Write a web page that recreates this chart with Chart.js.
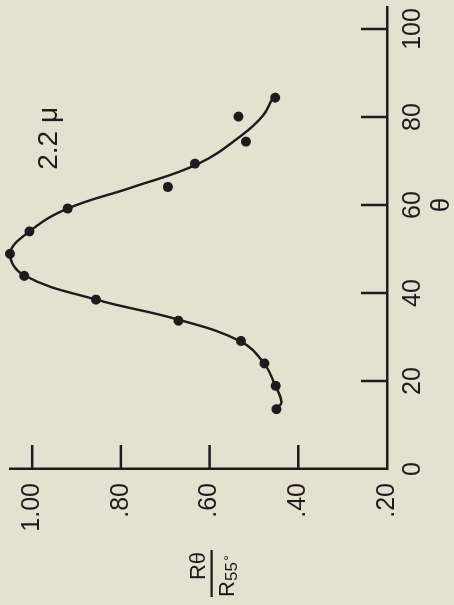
<!DOCTYPE html>
<html>
<head>
<meta charset="utf-8">
<script src="https://cdn.jsdelivr.net/npm/chart.js@4.4.0/dist/chart.umd.min.js"></script>
<style>
  html, body { margin: 0; padding: 0; background: #e5e0d0; overflow: hidden; }
  /* the figure is laid out landscape and turned a quarter turn counter-clockwise */
  #frame {
    position: absolute; left: 0; top: 0;
    width: 605px; height: 454px;
    transform-origin: 0 0;
    transform: translate(0, 605px) rotate(-90deg);
  }
  canvas { display: block; }
</style>
</head>
<body>
<div id="frame"><canvas id="chart" width="605" height="454"></canvas></div>
<script>
// Measured ratio R(θ)/R(55°) at 2.2 μ
const thetaObs = [13.6, 18.9, 24.0, 29.1, 33.7, 38.5, 43.9, 48.9, 54.0, 59.2, 64.1, 69.4, 74.4, 80.1, 84.4];
const ratioObs = [0.449, 0.451, 0.476, 0.529, 0.670, 0.856, 1.018, 1.050, 1.006, 0.920, 0.694, 0.633, 0.518, 0.535, 0.452];

// Faired curve drawn through the measurements
const thetaFit = [13.8, 15.2, 19.0, 24.0, 29.0, 34.0, 38.5, 44.0, 48.9, 54.0, 59.2, 64.0, 69.4, 75.9, 80.4, 83.9];
const ratioFit = [0.448, 0.438, 0.452, 0.477, 0.530, 0.672, 0.856, 1.018, 1.050, 1.006, 0.920, 0.775, 0.625, 0.527, 0.479, 0.460];

// Axis ticks
const thetaTicks = [0, 20, 40, 60, 80, 100];
const ratioTicks = [0.2, 0.4, 0.6, 0.8, 1.0];
const ratioTickLabels = ['.20', '.40', '.60', '.80', '1.00'];

const INK = '#1c1c1c';
const FONT = "'Liberation Sans', Arial, sans-serif";

// tick marks that point into the plot
const inwardTicks = {
  id: 'inwardTicks',
  afterDraw(chart) {
    const { ctx, chartArea: a, scales: { x, y } } = chart;
    ctx.save();
    ctx.strokeStyle = INK;
    ctx.lineWidth = 2.5;
    thetaTicks.filter(t => t > thetaTicks[0]).forEach(t => {
      const px = x.getPixelForValue(t);
      ctx.beginPath();
      ctx.moveTo(px, a.bottom);
      ctx.lineTo(px, a.bottom - 26);
      ctx.stroke();
    });
    ratioTicks.filter(v => v > ratioTicks[0]).forEach(v => {
      const py = y.getPixelForValue(v);
      ctx.beginPath();
      ctx.moveTo(a.left, py);
      ctx.lineTo(a.left + 24, py);
      ctx.stroke();
    });
    ctx.restore();
  }
};

// axis titles and the wavelength note
const captions = {
  id: 'captions',
  afterDraw(chart) {
    const { ctx, scales: { x, y } } = chart;
    ctx.save();
    ctx.fillStyle = INK;
    ctx.strokeStyle = INK;

    // R_θ / R_55° fraction beside the ratio axis
    const lineY = y.getPixelForValue(0.6) + 2;
    ctx.font = `22px ${FONT}`;
    ctx.textAlign = 'center';
    ctx.textBaseline = 'alphabetic';
    ctx.fillText('Rθ', 39, lineY - 7);
    ctx.lineWidth = 2.2;
    ctx.beginPath();
    ctx.moveTo(8, lineY);
    ctx.lineTo(55, lineY);
    ctx.stroke();
    ctx.textAlign = 'left';
    ctx.font = `22px ${FONT}`;
    ctx.fillText('R', 8, lineY + 22);
    ctx.font = `17px ${FONT}`;
    ctx.fillText('55', 24, lineY + 25);
    ctx.font = `15px ${FONT}`;
    ctx.fillText('°', 44, lineY + 22);

    // θ axis title
    ctx.font = `26px ${FONT}`;
    ctx.textAlign = 'center';
    ctx.textBaseline = 'middle';
    ctx.fillText('θ', x.getPixelForValue(60), 442);

    // wavelength note
    ctx.font = `28px ${FONT}`;
    ctx.textAlign = 'left';
    ctx.textBaseline = 'alphabetic';
    ctx.fillText('2.2 μ', x.getPixelForValue(68), y.getPixelForValue(0.944));
    ctx.restore();
  }
};

new Chart(document.getElementById('chart'), {
  type: 'scatter',
  data: {
    datasets: [
      {
        label: 'measured',
        data: thetaObs.map((t, i) => ({ x: t, y: ratioObs[i] })),
        pointRadius: 5,
        pointBackgroundColor: INK,
        pointBorderWidth: 0,
        showLine: false,
        clip: false
      },
      {
        label: 'faired curve',
        data: thetaFit.map((t, i) => ({ x: t, y: ratioFit[i] })),
        showLine: true,
        pointRadius: 0,
        borderColor: INK,
        borderWidth: 2.4,
        tension: 0.4,
        fill: false,
        clip: false
      }
    ]
  },
  options: {
    responsive: false,
    animation: false,
    devicePixelRatio: 1,
    layout: { padding: { top: 10, right: 7, left: 0, bottom: 0 } },
    plugins: { legend: { display: false }, tooltip: { enabled: false } },
    scales: {
      x: {
        type: 'linear',
        min: 0,
        max: 105,
        afterBuildTicks: s => { s.ticks = thetaTicks.map(v => ({ value: v })); },
        afterFit: s => { s.height = 67; s.paddingLeft = 0; s.paddingRight = 0; },
        grid: { display: false },
        border: { display: true, color: INK, width: 2.5 },
        ticks: {
          color: INK,
          font: { family: FONT, size: 25 },
          padding: 3,
          maxRotation: 0,
          autoSkip: false,
          callback: v => String(v)
        }
      },
      y: {
        type: 'linear',
        min: 0.2,
        max: 1.05,
        afterBuildTicks: s => { s.ticks = ratioTicks.map(v => ({ value: v })); },
        afterFit: s => { s.width = 136; s.paddingTop = 0; s.paddingBottom = 0; },
        grid: { display: false },
        border: { display: true, color: INK, width: 2.5 },
        ticks: {
          color: INK,
          font: { family: FONT, size: 25 },
          padding: 6,
          autoSkip: false,
          callback: (v, i) => ratioTickLabels[i]
        }
      }
    }
  },
  plugins: [inwardTicks, captions]
});
</script>
</body>
</html>
